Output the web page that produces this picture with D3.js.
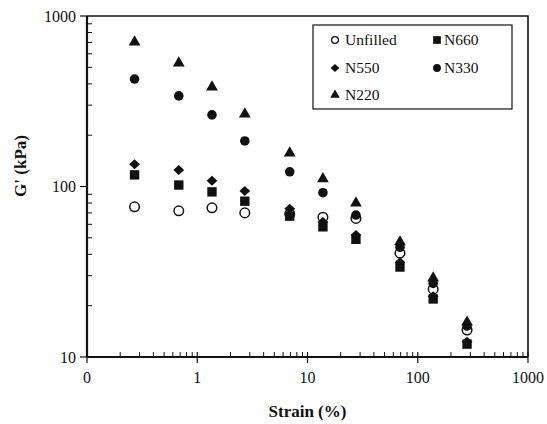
<!DOCTYPE html>
<html>
<head>
<meta charset="utf-8">
<script src="https://cdn.jsdelivr.net/npm/d3@7/dist/d3.min.js"></script>
<style>
  html, body { margin: 0; padding: 0; background: #fff; }
  svg { display: block; }
</style>
</head>
<body>
<svg id="chart" width="547" height="424"></svg>
<script>
// Storage modulus vs. strain amplitude for the rubber compounds
const strain   = [0.27, 0.68, 1.36, 2.7, 6.9, 13.8, 27.5, 69, 138, 280];
const unfilled = [76, 72, 75, 70, 69, 66, 65, 40.7, 25, 14.4];
const n660     = [117, 102, 93, 82, 67, 58, 49, 33.7, 21.9, 11.9];
const n550     = [135, 125, 108, 94, 74, 62, 52, 36, 22.7, 12.3];
const n330     = [427, 340, 263, 185, 122, 92, 68, 44, 27, 15.2];
const n220     = [703, 530, 383, 266, 157, 111, 80, 47.3, 29, 16];

const xTickValues = [0.1, 1, 10, 100, 1000];
const xTickLabels = ["0", "1", "10", "100", "1000"];
const yTickValues = [10, 100, 1000];
const yTickLabels = ["10", "100", "1000"];

const series = [
  { name: "Unfilled", values: unfilled, shape: "circle", open: true },
  { name: "N660",     values: n660,     shape: "square" },
  { name: "N550",     values: n550,     shape: "diamond" },
  { name: "N330",     values: n330,     shape: "circle" },
  { name: "N220",     values: n220,     shape: "triangle" }
];

const FONT = "'Liberation Serif', 'Times New Roman', Times, serif";
const INK = "#111";

const svg = d3.select("#chart");
const plotLeft = 87, plotRight = 528, plotTop = 16, plotBottom = 357;

const x = d3.scaleLog().domain([0.1, 1000]).range([plotLeft, plotRight]);
const y = d3.scaleLog().domain([10, 1000]).range([plotBottom, plotTop]);

// marker path for a given shape and scale factor
function markerPath(shape, k) {
  if (shape === "circle") return d3.symbol(d3.symbolCircle, 72 * k * k)();
  if (shape === "square") return d3.symbol(d3.symbolSquare, 88 * k * k)();
  if (shape === "triangle") return d3.symbol(d3.symbolTriangle, 60 * k * k)();
  // diamond: slightly wider than tall
  const w = 5.4 * k, h = 5 * k;
  return `M0,${-h}L${w},0L0,${h}L${-w},0Z`;
}

// frame: top and right borders
svg.append("path")
  .attr("d", `M${plotLeft},${plotTop}H${plotRight}V${plotBottom}`)
  .attr("fill", "none").attr("stroke", INK).attr("stroke-width", 1.6);

// minor ticks
const minorX = [];
for (let e = -1; e < 3; e++) for (let m = 2; m <= 9; m++) minorX.push(m * Math.pow(10, e));
const minorY = [];
for (let e = 1; e < 3; e++) for (let m = 2; m <= 9; m++) minorY.push(m * Math.pow(10, e));

const xAxis = svg.append("g");
xAxis.selectAll("line.minor").data(minorX).join("line").attr("class", "minor")
  .attr("x1", d => x(d)).attr("x2", d => x(d))
  .attr("y1", plotBottom).attr("y2", plotBottom - 5)
  .attr("stroke", INK).attr("stroke-width", 1);
xAxis.selectAll("line.major").data(xTickValues).join("line").attr("class", "major")
  .attr("x1", d => x(d)).attr("x2", d => x(d))
  .attr("y1", plotBottom - 5).attr("y2", plotBottom + 6)
  .attr("stroke", INK).attr("stroke-width", 1.2);
xAxis.append("line")
  .attr("x1", plotLeft).attr("x2", plotRight).attr("y1", plotBottom).attr("y2", plotBottom)
  .attr("stroke", INK).attr("stroke-width", 2.2);
xAxis.selectAll("text").data(xTickValues).join("text")
  .attr("x", d => x(d)).attr("y", plotBottom + 26)
  .attr("text-anchor", "middle").attr("font-size", 16)
  .attr("font-family", FONT).attr("fill", INK)
  .text((d, i) => xTickLabels[i]);

const yAxis = svg.append("g");
yAxis.selectAll("line.minor").data(minorY).join("line").attr("class", "minor")
  .attr("x1", plotLeft).attr("x2", plotLeft + 5)
  .attr("y1", d => y(d)).attr("y2", d => y(d))
  .attr("stroke", INK).attr("stroke-width", 1);
yAxis.selectAll("line.major").data(yTickValues).join("line").attr("class", "major")
  .attr("x1", plotLeft - 7).attr("x2", plotLeft)
  .attr("y1", d => y(d)).attr("y2", d => y(d))
  .attr("stroke", INK).attr("stroke-width", 1.2);
yAxis.append("line")
  .attr("x1", plotLeft).attr("x2", plotLeft).attr("y1", plotTop).attr("y2", plotBottom)
  .attr("stroke", INK).attr("stroke-width", 2.2);
yAxis.selectAll("text").data(yTickValues).join("text")
  .attr("x", plotLeft - 11).attr("y", d => y(d) + 5.5)
  .attr("text-anchor", "end").attr("font-size", 16)
  .attr("font-family", FONT).attr("fill", INK)
  .text((d, i) => yTickLabels[i]);

// axis titles
svg.append("text")
  .attr("x", (plotLeft + plotRight) / 2).attr("y", 417)
  .attr("text-anchor", "middle").attr("font-size", 17).attr("font-weight", "bold")
  .attr("font-family", FONT).attr("fill", INK)
  .text("Strain (%)");
svg.append("text")
  .attr("transform", "translate(26,166) rotate(-90)")
  .attr("text-anchor", "middle").attr("font-size", 17).attr("font-weight", "bold")
  .attr("font-family", FONT).attr("fill", INK)
  .text("G' (kPa)");

// data markers
const marks = svg.append("g");
series.forEach(s => {
  marks.append("g").selectAll("path")
    .data(s.values.map((v, i) => ({ sx: strain[i], v })))
    .join("path")
    .attr("transform", d => `translate(${x(d.sx)},${y(d.v)})`)
    .attr("d", markerPath(s.shape, 1))
    .attr("fill", s.open ? "#fff" : INK)
    .attr("stroke", INK)
    .attr("stroke-width", s.open ? 1.5 : 0);
});

// legend
const legend = svg.append("g");
legend.append("rect")
  .attr("x", 313).attr("y", 25).attr("width", 199).attr("height", 84)
  .attr("fill", "#fff").attr("stroke", INK).attr("stroke-width", 1.2);
const legendPos = [
  { mx: 335, tx: 345, ty: 45 },
  { mx: 437, tx: 444, ty: 45 },
  { mx: 335, tx: 345, ty: 73 },
  { mx: 437, tx: 444, ty: 73 },
  { mx: 335, tx: 345, ty: 100 }
];
const legendOrder = ["Unfilled", "N660", "N550", "N330", "N220"];
legendOrder.forEach((name, i) => {
  const s = series.find(d => d.name === name);
  const p = legendPos[i];
  legend.append("path")
    .attr("transform", `translate(${p.mx},${p.ty - 5})`)
    .attr("d", markerPath(s.shape, s.open ? 0.72 : 0.82))
    .attr("fill", s.open ? "#fff" : INK)
    .attr("stroke", INK)
    .attr("stroke-width", s.open ? 1.3 : 0);
  legend.append("text")
    .attr("x", p.tx).attr("y", p.ty)
    .attr("font-size", 15.5)
    .attr("font-family", FONT).attr("fill", INK)
    .text(name);
});
</script>
</body>
</html>
